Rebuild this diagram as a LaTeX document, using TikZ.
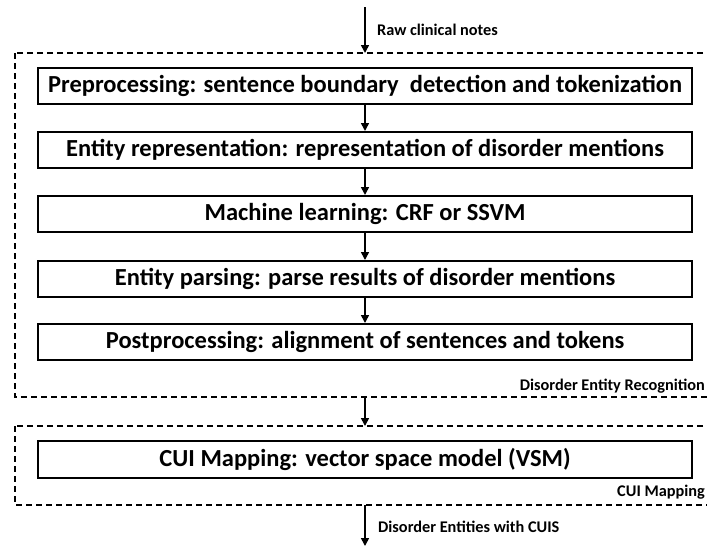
\documentclass[tikz,border=0pt]{standalone}
\usepackage{fontspec}
\setmainfont{Carlito}
\usetikzlibrary{arrows.meta}
\begin{document}
\begin{tikzpicture}[x=1pt,y=-1pt,
  stepbox/.style={draw,line width=2.2pt,minimum width=654pt,minimum height=36pt,inner sep=0pt,anchor=north west,font=\fontsize{24.5}{28}\selectfont\bfseries},
  groupbox/.style={draw,line width=1.8pt,dash pattern=on 6pt off 4pt},
  flow/.style={line width=1.6pt,-{Triangle[length=8pt,width=8pt]}},
  tag/.style={font=\fontsize{16.3}{18}\selectfont\bfseries,inner sep=0pt}]
\useasboundingbox (0,0) rectangle (707,546);
\draw[groupbox] (15,53) rectangle (715,397);
\draw[groupbox] (15,426) rectangle (715,505);
\node[stepbox] (b1) at (37,67) {Preprocessing: sentence boundary\ \ detection and tokenization};
\node[stepbox] (b2) at (37,131) {Entity representation: representation of disorder mentions};
\node[stepbox] (b3) at (37,195) {Machine learning: CRF or SSVM};
\node[stepbox] (b4) at (37,260) {Entity parsing: parse results of disorder mentions};
\node[stepbox] (b5) at (37,323) {Postprocessing: alignment of sentences and tokens};
\node[stepbox,minimum height=37pt] (b6) at (37,440) {CUI Mapping: vector space model (VSM)};
\coordinate (t0) at (365,7);
\coordinate (t1) at (365,53);
\coordinate (m0) at (365,397);
\coordinate (m1) at (365,426);
\coordinate (e0) at (365,505);
\coordinate (e1) at (365,546);
\draw[flow] (t0) -- (t1);
\draw[flow] (b1.south -| t0) -- (b2.north -| t0);
\draw[flow] (b2.south -| t0) -- (b3.north -| t0);
\draw[flow] (b3.south -| t0) -- (b4.north -| t0);
\draw[flow] (b4.south -| t0) -- (b5.north -| t0);
\draw[flow] (m0) -- (m1);
\draw[flow] (e0) -- (e1);
\node[tag,anchor=west] (l1) at (377,30) {Raw clinical notes};
\node[tag,anchor=east] (l2) at (705,386) {Disorder Entity Recognition};
\node[tag,anchor=east] (l3) at (705,492) {CUI Mapping};
\node[tag,anchor=west] (l4) at (378,527) {Disorder Entities with CUIS};
\end{tikzpicture}
\end{document}
